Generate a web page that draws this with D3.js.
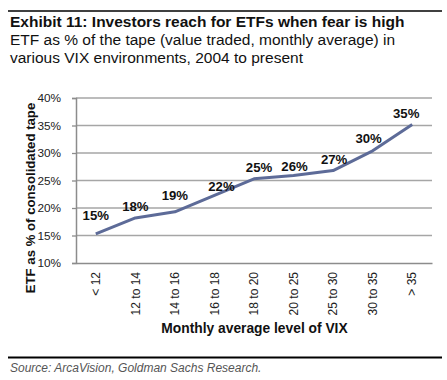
<!DOCTYPE html>
<html><head><meta charset="utf-8">
<script src="https://cdn.jsdelivr.net/npm/d3@7"></script>
<style>
html,body{margin:0;padding:0;background:#fff;}
svg{display:block;font-family:"Liberation Sans",Arial,sans-serif;}
</style></head>
<body>
<svg id="chart" width="447" height="380"></svg>
<script>
const categories = ["< 12","12 to 14","14 to 16","16 to 18","18 to 20","20 to 25","25 to 30","30 to 35","> 35"];
const etfShare = [15.3, 18.2, 19.3, 22.3, 25.3, 25.9, 26.8, 30.4, 35.2];
const yTicks = [10, 15, 20, 25, 30, 35, 40];
const titleText = "Exhibit 11: Investors reach for ETFs when fear is high";
const subtitleLines = ["ETF as % of the tape (value traded, monthly average) in", "various VIX environments, 2004 to present"];
const yAxisTitle = "ETF as % of consolidated tape";
const xAxisTitle = "Monthly average level of VIX";
const sourceText = "Source: ArcaVision, Goldman Sachs Research.";

const svg = d3.select("#chart");
const plot = {left: 76, right: 432, top: 98, bottom: 263};

// header
svg.append("line").attr("x1",8).attr("x2",442).attr("y1",11).attr("y2",11)
  .attr("stroke","#000").attr("stroke-width",1.6);
svg.append("text").attr("x",10).attr("y",27).attr("font-size",15.5).attr("font-weight","bold")
  .attr("fill","#111").text(titleText);
svg.selectAll("text.sub").data(subtitleLines).join("text").attr("class","sub")
  .attr("x",10).attr("y",(d,i)=>45+i*18).attr("font-size",15.5).attr("fill","#111").text(d=>d);

const x = d3.scaleBand().domain(categories).range([plot.left, plot.right]);
const y = d3.scaleLinear().domain([10,40]).range([plot.bottom, plot.top]);

// gridlines
svg.append("g").selectAll("line").data(yTicks.filter(t=>t>10)).join("line")
  .attr("x1",plot.left).attr("x2",plot.right).attr("y1",d=>y(d)).attr("y2",d=>y(d))
  .attr("stroke","#a6a6a6").attr("stroke-width",1.3);

// y axis
const yAxis = d3.axisLeft(y).tickValues(yTicks).tickFormat(d=>d+"%").tickSize(4).tickPadding(11);
const gy = svg.append("g").attr("transform",`translate(${plot.left},0)`).call(yAxis);
gy.select(".domain").attr("stroke","#8c8c8c").attr("stroke-width",1.5);
gy.selectAll(".tick line").attr("stroke","#8c8c8c").attr("stroke-width",1.3);
gy.selectAll(".tick text").attr("font-size",11.8).attr("fill","#222")
  .attr("font-family","Liberation Sans, Arial, sans-serif");

// x axis
const xAxis = d3.axisBottom(x).tickSize(0).tickPadding(0);
const gx = svg.append("g").attr("transform",`translate(0,${plot.bottom})`).call(xAxis);
gx.select(".domain").attr("stroke","#8c8c8c").attr("stroke-width",1.5);
gx.selectAll(".tick text").attr("font-size",12).attr("fill","#222")
  .attr("font-family","Liberation Sans, Arial, sans-serif")
  .attr("transform","rotate(-90)").attr("text-anchor","end")
  .attr("x",-9).attr("y",0).attr("dy","0.35em");

// line
const line = d3.line().x((d,i)=>x(categories[i])+x.bandwidth()/2).y(d=>y(d));
svg.append("path").datum(etfShare).attr("d",line).attr("fill","none")
  .attr("stroke","#5d6b98").attr("stroke-width",3).attr("stroke-linejoin","round");

// labels
const labelNudge = [[0,-14],[0,-7],[0,-12],[7,-4],[5,-7],[1,-5],[1,-7],[-4,-8],[-6,-6]];
svg.append("g").selectAll("text").data(etfShare).join("text")
  .attr("x",(d,i)=>x(categories[i])+x.bandwidth()/2+labelNudge[i][0])
  .attr("y",(d,i)=>y(d)+labelNudge[i][1])
  .attr("text-anchor","middle").attr("font-size",13.2).attr("font-weight","bold").attr("fill","#111")
  .text(d=>Math.round(d)+"%");

// axis titles
svg.append("text").attr("transform","translate(35,198) rotate(-90)").attr("text-anchor","middle")
  .attr("font-size",13.2).attr("font-weight","bold").attr("fill","#111").text(yAxisTitle);
svg.append("text").attr("x",254.5).attr("y",333).attr("text-anchor","middle")
  .attr("font-size",13.8).attr("font-weight","bold").attr("fill","#111").text(xAxisTitle);

// footer
svg.append("line").attr("x1",8).attr("x2",442).attr("y1",357.5).attr("y2",357.5)
  .attr("stroke","#000").attr("stroke-width",2);
svg.append("text").attr("x",10).attr("y",372).attr("font-size",12).attr("font-style","italic")
  .attr("fill","#555").text(sourceText);
</script>
</body></html>
